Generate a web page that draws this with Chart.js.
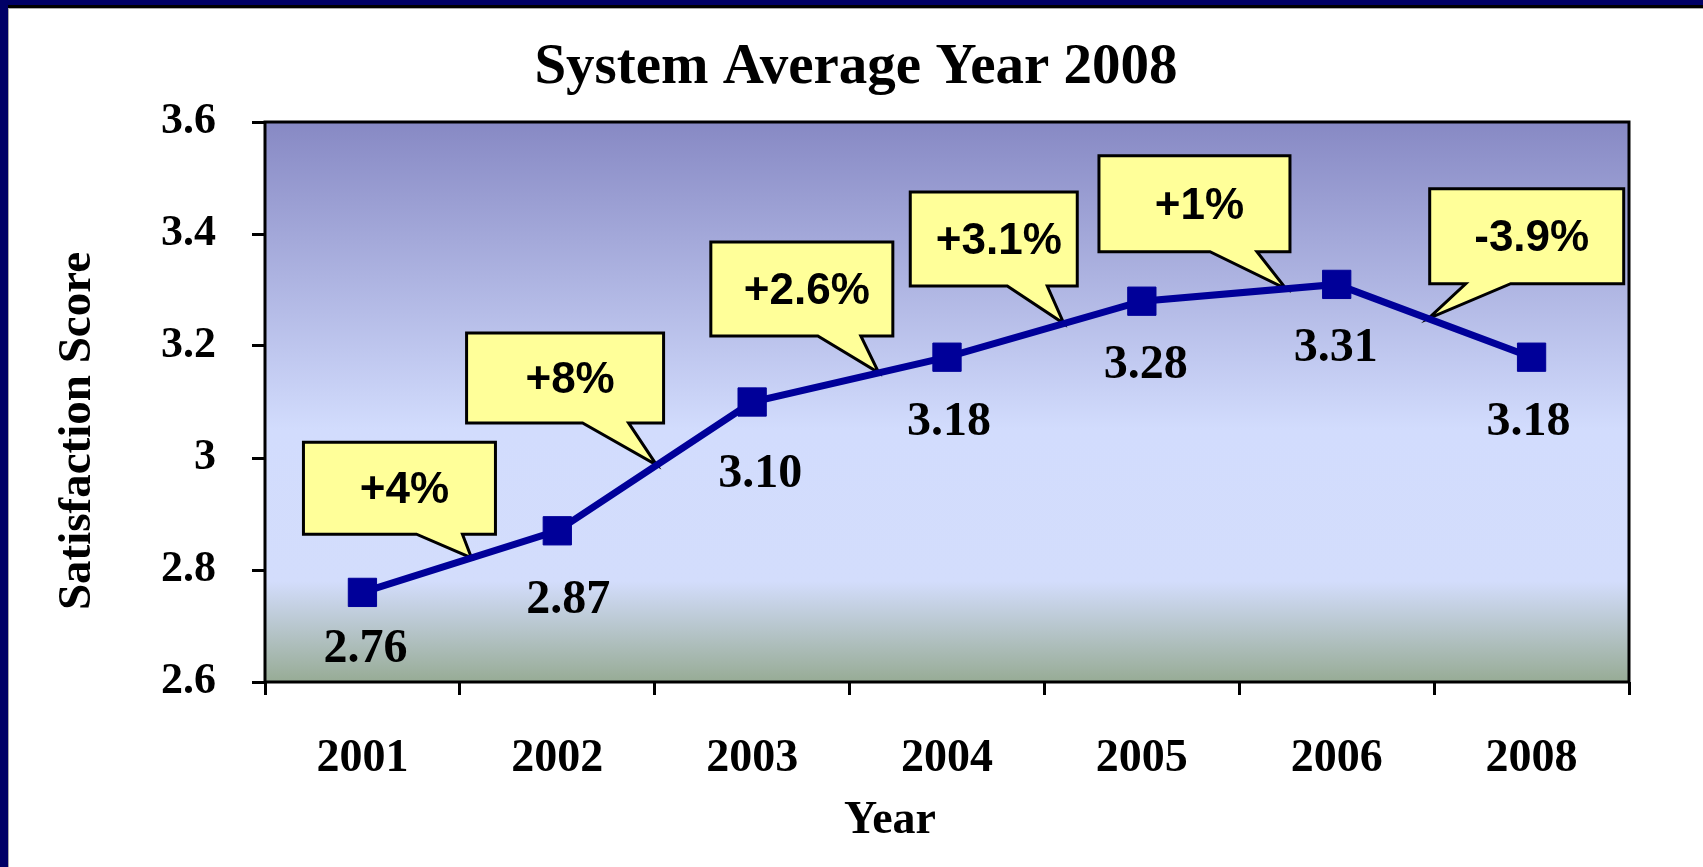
<!DOCTYPE html>
<html>
<head>
<meta charset="utf-8">
<title>System Average Year 2008</title>
<script src="https://cdn.jsdelivr.net/npm/chart.js@4.4.1/dist/chart.umd.min.js"></script>
<style>
    html, body { margin: 0; padding: 0; background: #fff; }
    #frame {
        position: absolute; left: 0; top: 0;
        width: 1703px; height: 867px;
        box-sizing: border-box;
        border-top: 5px solid #000066;
        border-left: 8px solid #000066;
        overflow: hidden;
    }
    #inner {
        border-top: 3px solid #000;
    }
    #chart-box {
        border-top: 1px solid #aaa;
        border-left: 1px solid #aaa;
        width: 1694px; height: 858px;
    }
</style>
</head>
<body>
<div id="frame"><div id="inner"><div id="chart-box">
    <canvas id="satisfactionChart" width="1694" height="858"></canvas>
</div></div></div>

<script>
/* Chart data */
const years = ['2001', '2002', '2003', '2004', '2005', '2006', '2008'];
const scores = [2.76, 2.87, 3.10, 3.18, 3.28, 3.31, 3.18];
const yTicks = [2.6, 2.8, 3, 3.2, 3.4, 3.6];
const changeLabels = ['+4%', '+8%', '+2.6%', '+3.1%', '+1%', '-3.9%'];

/* Callout layout: segment the tail points at, where along it, box centre in data units */
const calloutLayout = [
    { seg: 0, t: 0.56, cx: 0.19, cy: 2.946, w: 192, h: 92, base: [113, 159] },
    { seg: 1, t: 0.51, cx: 1.04, cy: 3.143, w: 197, h: 90, base: [116, 162] },
    { seg: 2, t: 0.65, cx: 2.255, cy: 3.302, w: 182, h: 94, base: [107, 150] },
    { seg: 3, t: 0.60, cx: 3.24, cy: 3.391, w: 167, h: 94, base: [97, 137] },
    { seg: 4, t: 0.74, cx: 4.27, cy: 3.454, w: 191, h: 96, base: [111, 158] },
    { seg: 5, t: 0.47, cx: 5.975, cy: 3.396, w: 194, h: 95, base: [36, 81] }
];
// value label nudges (px) below each marker
const labelShift = [[3, 57], [11, 70], [8, 73], [2, 65], [4, 64], [-1, 64], [-3, 65]];

const serif = "'Times New Roman', 'Liberation Serif', serif";
const sans = "Arial, 'Liberation Sans', sans-serif";

const plotBackground = {
    id: 'plotBackground',
    beforeDatasetsDraw(chart) {
        const { ctx, chartArea: a } = chart;
        const g = ctx.createLinearGradient(0, a.top, 0, a.bottom);
        g.addColorStop(0, '#8789c4');
        g.addColorStop(0.55, '#d2dcfd');
        g.addColorStop(0.82, '#d3ddfc');
        g.addColorStop(1, '#97ab95');
        ctx.save();
        ctx.fillStyle = g;
        ctx.fillRect(a.left, a.top, a.width, a.height);
        ctx.lineWidth = 3;
        ctx.strokeStyle = '#000';
        ctx.strokeRect(a.left, a.top, a.width, a.height);
        ctx.restore();
    }
};

const callouts = {
    id: 'callouts',
    beforeDatasetsDraw(chart) {
        const { ctx, scales: { x, y } } = chart;
        ctx.save();
        calloutLayout.forEach((c, i) => {
            const cx = x.getPixelForValue(c.cx);
            const cy = y.getPixelForValue(c.cy);
            const left = cx - c.w / 2, top = cy - c.h / 2;
            const right = left + c.w, bottom = top + c.h;
            const v0 = scores[c.seg], v1 = scores[c.seg + 1];
            const tipX = x.getPixelForValue(c.seg + c.t);
            const tipY = y.getPixelForValue(v0 + (v1 - v0) * c.t);

            ctx.beginPath();
            ctx.moveTo(left, top);
            ctx.lineTo(right, top);
            ctx.lineTo(right, bottom);
            ctx.lineTo(left + c.base[1], bottom);
            ctx.lineTo(tipX, tipY);
            ctx.lineTo(left + c.base[0], bottom);
            ctx.lineTo(left, bottom);
            ctx.closePath();
            ctx.fillStyle = '#ffff99';
            ctx.fill();
            ctx.lineWidth = 3;
            ctx.strokeStyle = '#000';
            ctx.stroke();

            ctx.fillStyle = '#000';
            ctx.font = 'bold 44px ' + sans;
            ctx.textAlign = 'center';
            ctx.textBaseline = 'middle';
            ctx.fillText(changeLabels[i], cx + 5, cy + 3);
        });
        ctx.restore();
    }
};

const valueLabels = {
    id: 'valueLabels',
    afterDatasetsDraw(chart) {
        const { ctx } = chart;
        const points = chart.getDatasetMeta(0).data;
        ctx.save();
        ctx.fillStyle = '#000';
        ctx.font = 'bold 48px ' + serif;
        ctx.textAlign = 'center';
        ctx.textBaseline = 'middle';
        points.forEach((p, i) => {
            ctx.fillText(scores[i].toFixed(2), p.x + labelShift[i][0], p.y + labelShift[i][1]);
        });
        ctx.restore();
    }
};

// axis titles are off-centre in the original, so draw them by hand
const axisTitles = {
    id: 'axisTitles',
    afterDraw(chart) {
        const { ctx, chartArea: a } = chart;
        ctx.save();
        ctx.fillStyle = '#000';
        ctx.textAlign = 'center';
        ctx.textBaseline = 'middle';

        ctx.font = 'bold 46px ' + serif;
        ctx.fillText('Year', (a.left + a.right) / 2 - 57, a.bottom + 139);

        ctx.translate(69, (a.top + a.bottom) / 2 + 29);
        ctx.rotate(-Math.PI / 2);
        ctx.font = 'bold 47px ' + serif;
        ctx.fillText('Satisfaction Score', 0, 0);
        ctx.restore();
    }
};

new Chart(document.getElementById('satisfactionChart'), {
    type: 'line',
    data: {
        labels: years,
        datasets: [{
            label: 'Satisfaction Score',
            data: scores,
            borderColor: '#000099',
            borderWidth: 7,
            pointStyle: 'rect',
            pointRadius: 20,
            pointBackgroundColor: '#000099',
            pointBorderColor: '#000099',
            pointBorderWidth: 1,
            tension: 0,
            clip: false
        }]
    },
    options: {
        responsive: false,
        animation: false,
        layout: { padding: { left: 74, right: 74, top: 0, bottom: 0 } },
        plugins: {
            legend: { display: false },
            tooltip: { enabled: false },
            title: {
                display: true,
                text: 'System Average Year 2008',
                color: '#000',
                font: { family: serif, size: 57, weight: 'bold' },
                padding: { top: 25, bottom: 19.6 }
            }
        },
        scales: {
            x: {
                offset: true,
                grid: {
                    offset: true,
                    drawOnChartArea: false,
                    drawTicks: true,
                    tickLength: 13,
                    tickWidth: 3,
                    tickColor: '#000'
                },
                border: { display: false },
                ticks: {
                    color: '#000',
                    font: { family: serif, size: 46, weight: 'bold' },
                    padding: 37,
                    maxRotation: 0,
                    autoSkip: false
                },
                afterFit(scale) { scale.height = 185; }
            },
            y: {
                min: 2.6,
                max: 3.6,
                afterBuildTicks(scale) {
                    scale.ticks = yTicks.map(v => ({ value: v }));
                },
                grid: {
                    drawOnChartArea: false,
                    drawTicks: true,
                    tickLength: 13,
                    tickWidth: 3,
                    tickColor: '#000'
                },
                border: { display: false },
                ticks: {
                    color: '#000',
                    font: { family: serif, size: 44, weight: 'bold' },
                    padding: 36,
                    callback: v => String(v)
                },
                afterFit(scale) { scale.width = 182; }
            }
        }
    },
    plugins: [plotBackground, callouts, valueLabels, axisTitles]
});
</script>
</body>
</html>
